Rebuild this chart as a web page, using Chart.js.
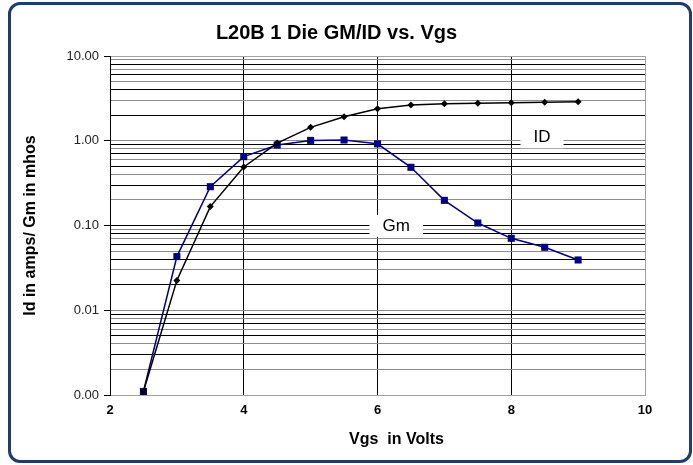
<!DOCTYPE html>
<html>
<head>
<meta charset="utf-8">
<script src="https://cdn.jsdelivr.net/npm/chart.js@4/dist/chart.umd.min.js"></script>
<style>
  html, body { margin: 0; padding: 0; background: #fff; }
  #wrap { position: relative; width: 693px; height: 465px; overflow: hidden; }
  #frame { position: absolute; left: 8px; top: 2px; width: 684px; height: 461px; box-sizing: border-box;
           border: 3px solid #1f3d68; border-radius: 12px; pointer-events: none; }
  canvas { position: absolute; left: 0; top: 0; }
</style>
</head>
<body>
<div id="wrap">
  <canvas id="c" width="693" height="465"></canvas>
  <div id="frame"></div>
</div>
<script>
// ---- data ----
const vgs = [2.5, 3.0, 3.5, 4.0, 4.5, 5.0, 5.5, 6.0, 6.5, 7.0, 7.5, 8.0, 8.5, 9.0];
const idValues = [0.0011, 0.0225, 0.167, 0.49, 0.94, 1.44, 1.92, 2.39, 2.64, 2.74, 2.77, 2.81, 2.85, 2.89];
const gmValues = [0.0011, 0.043, 0.287, 0.649, 0.89, 1.01, 1.02, 0.92, 0.486, 0.198, 0.107, 0.0706, 0.0553, 0.0392];
const xTicks = [2, 4, 6, 8, 10];
const yMajorTicks = [0.001, 0.01, 0.1, 1, 10];
const yTickLabels = ['0.00', '0.01', '0.10', '1.00', '10.00'];
const minorMultiples = [2, 3, 4, 5, 6, 7, 8, 9];
const titleText = 'L20B 1 Die GM/ID vs. Vgs';
const xTitle = 'Vgs  in Volts';
const yTitle = 'Id in amps/ Gm in mhos';
const seriesLabels = ['ID', 'Gm'];
const seriesLabelPos = [[8.46, 1.1], [6.28, 0.099]];

const FONT = '"Liberation Sans", Arial, sans-serif';

function isMajor(v) {
  return yMajorTicks.some(m => Math.abs(v - m) / m < 1e-6);
}

const labelPlugin = {
  id: 'labels',
  afterDatasetsDraw(chart) {
    const ctx = chart.ctx;
    const xs = chart.scales.x, ys = chart.scales.y;
    const ca = chart.chartArea;
    ctx.save();
    ctx.font = '17px ' + FONT;
    ctx.textAlign = 'center';
    ctx.textBaseline = 'middle';
    seriesLabels.forEach((t, i) => {
      const px = xs.getPixelForValue(seriesLabelPos[i][0]);
      const py = ys.getPixelForValue(seriesLabelPos[i][1]);
      const w = ctx.measureText(t).width + 26;
      ctx.fillStyle = '#fff';
      ctx.fillRect(px - w / 2, py - 11, w, 22);
      ctx.fillStyle = '#000';
      ctx.fillText(t, px, py);
    });
    // chart title
    ctx.font = 'bold 20px ' + FONT;
    ctx.fillText(titleText, (ca.left + ca.right) / 2 - 41, ca.top - 23);
    // x axis title
    ctx.font = 'bold 16px ' + FONT;
    ctx.fillText(xTitle, (ca.left + ca.right) / 2 + 19, ca.bottom + 45);
    ctx.restore();
  }
};

new Chart(document.getElementById('c'), {
  type: 'line',
  data: {
    datasets: [
      {
        label: seriesLabels[0],
        data: vgs.map((x, i) => ({ x: x, y: idValues[i] })),
        borderColor: '#000',
        backgroundColor: '#000',
        borderWidth: 1.5,
        pointStyle: 'rectRot',
        pointRadius: 3.5,
        pointBorderWidth: 0,
        tension: 0
      },
      {
        label: seriesLabels[1],
        data: vgs.map((x, i) => ({ x: x, y: gmValues[i] })),
        borderColor: '#000080',
        backgroundColor: '#000080',
        borderWidth: 1.5,
        pointStyle: 'rect',
        pointRadius: 5,
        pointBorderWidth: 0,
        tension: 0
      }
    ]
  },
  options: {
    responsive: false,
    animation: false,
    layout: { padding: { left: 12, right: 48, top: 56, bottom: 0 } },
    plugins: {
      legend: { display: false },
      tooltip: { enabled: false },
      title: { display: false }
    },
    scales: {
      x: {
        type: 'linear',
        min: 2,
        max: 10,
        afterBuildTicks(scale) { scale.ticks = xTicks.map(v => ({ value: v })); },
        afterFit(scale) { scale.height = 70; },
        ticks: {
          color: '#000',
          font: { family: FONT, size: 13, weight: 'bold' },
          padding: 8,
          maxRotation: 0,
          callback: v => String(v)
        },
        grid: {
          drawTicks: false,
          lineWidth: 1,
          color: ctx => {
            const v = ctx.tick ? ctx.tick.value : null;
            if (v === 2) return 'rgba(0,0,0,0)';
            if (v === 10) return '#a0a0a0';
            return '#000';
          }
        },
        border: { display: true, color: '#a0a0a0', width: 1 }
      },
      y: {
        type: 'logarithmic',
        min: 0.001,
        max: 10,
        afterBuildTicks(scale) {
          const t = [];
          yMajorTicks.forEach((m, i) => {
            t.push({ value: m, major: true });
            if (i < yMajorTicks.length - 1) minorMultiples.forEach(k => t.push({ value: m * k }));
          });
          scale.ticks = t;
        },
        afterFit(scale) { scale.width = 98; },
        ticks: {
          color: '#222',
          font: { family: FONT, size: 13 },
          padding: 5,
          autoSkip: false,
          callback: function (v) {
            const idx = yMajorTicks.findIndex(m => Math.abs(v - m) / m < 1e-6);
            return idx >= 0 ? yTickLabels[idx] : '';
          }
        },
        grid: {
          drawTicks: true,
          tickLength: 6,
          lineWidth: 1,
          tickColor: ctx => (ctx.tick && isMajor(ctx.tick.value)) ? '#000' : 'rgba(0,0,0,0)',
          color: ctx => {
            if (!ctx.tick) return '#000';
            const v = ctx.tick.value;
            if (Math.abs(v - 10) < 1e-6) return '#a0a0a0';
            if (Math.abs(v - 0.001) < 1e-9) return 'rgba(0,0,0,0)';
            return ctx.index % 2 === 0 ? '#000' : '#8c8c8c';
          }
        },
        border: { display: true, color: '#000', width: 1 },
        title: {
          display: true,
          text: yTitle,
          color: '#000',
          font: { family: FONT, size: 16, weight: 'bold', lineHeight: 1.2 },
          padding: { top: 9, bottom: 0 }
        }
      }
    }
  },
  plugins: [labelPlugin]
});
</script>
</body>
</html>
